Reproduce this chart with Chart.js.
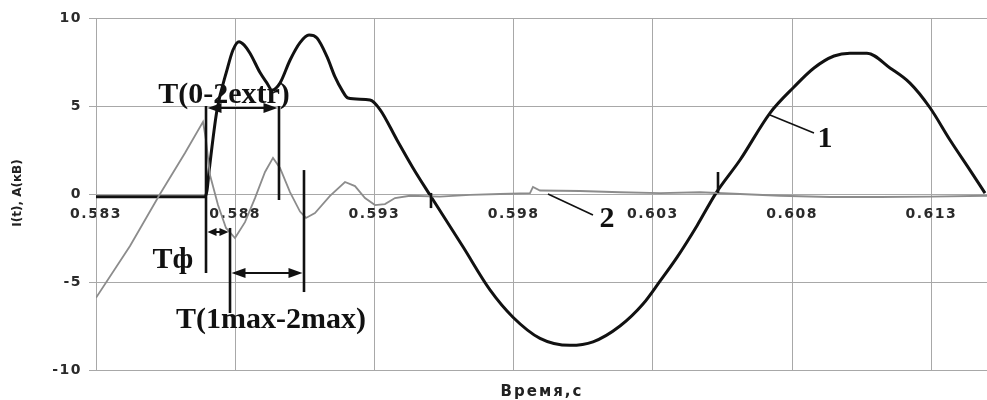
<!DOCTYPE html>
<html><head><meta charset="utf-8">
<script src="https://cdn.jsdelivr.net/npm/chart.js@4.4.1/dist/chart.umd.min.js"></script>
<style>html,body{margin:0;padding:0;background:#fff;}#wrap{width:987px;height:400px;}</style>
</head><body><div id="wrap"><canvas id="c" width="987" height="400"></canvas></div>
<script>
const xTicks = [0.583, 0.588, 0.593, 0.598, 0.603, 0.608, 0.613];
const yTicks = [-10, -5, 0, 5, 10];
const xTitle = 'Время,с';
const yTitle = 'I(t), A(кВ)';

// curve 1 (black)
const curve1Time = [0.583, 0.586915, 0.586986, 0.587058, 0.587346, 0.587705, 0.58792, 0.588136, 0.588315, 0.588531, 0.58889, 0.589141, 0.589321, 0.589608, 0.589967, 0.590327, 0.59065, 0.590937, 0.591296, 0.591584, 0.591835, 0.59205, 0.59284, 0.5932, 0.59381, 0.594385, 0.594995, 0.59618, 0.59715, 0.597976, 0.598946, 0.600023, 0.60085, 0.601819, 0.602645, 0.603256, 0.603866, 0.604585, 0.605267, 0.606129, 0.607206, 0.608068, 0.608786, 0.609505, 0.610079, 0.61069, 0.611516, 0.612234, 0.612953, 0.613671, 0.614389, 0.614928];
const curve1Value = [-0.15, -0.15, 0.2, 1.25, 4.77, 7.05, 8.18, 8.65, 8.47, 8.0, 6.9, 6.3, 5.9, 6.3, 7.6, 8.6, 9.03, 8.86, 7.8, 6.65, 5.9, 5.45, 5.34, 4.8, 3.07, 1.48, -0.06, -3.0, -5.45, -7.0, -8.2, -8.6, -8.4, -7.5, -6.25, -4.95, -3.6, -1.8, 0.05, 1.93, 4.6, 6.08, 7.16, 7.84, 8.0, 8.0, 7.16, 6.3, 4.9, 3.07, 1.36, 0.05];

// curve 2 (grey)
const curve2Time = [0.583, 0.584221, 0.585299, 0.586196, 0.586843, 0.58695, 0.587094, 0.587382, 0.587669, 0.587992, 0.588351, 0.58871, 0.58907, 0.589357, 0.589608, 0.589967, 0.590327, 0.590542, 0.590865, 0.591404, 0.591943, 0.592302, 0.592661, 0.59302, 0.593379, 0.593738, 0.594277, 0.595355, 0.596432, 0.597509, 0.598587, 0.598694, 0.598946, 0.600383, 0.601819, 0.603256, 0.604692, 0.606129, 0.607565, 0.609361, 0.611157, 0.612953, 0.615];
const curve2Value = [-5.9, -2.95, 0, 2.33, 4.1, 3.07, 1.08, -0.63, -1.93, -2.5, -1.6, -0.23, 1.25, 2.05, 1.48, 0.11, -1.0, -1.36, -1.08, -0.11, 0.68, 0.45, -0.23, -0.63, -0.57, -0.23, -0.1, -0.15, -0.05, 0, 0.05, 0.4, 0.2, 0.17, 0.1, 0.05, 0.1, 0, -0.1, -0.17, -0.17, -0.15, -0.1];

// annotation geometry in data units (time, value)
const annotVLines = [[0.586951, 5.0, -4.49], [0.589572, 5.0, -0.34], [0.587813, -1.93, -6.76], [0.59047, 1.36, -5.57], [0.605339, 1.25, 0.06], [0.595031, 0.06, -0.8]];
const annotArrows = [[0.586951, 0.589572, 4.89, 14, 5], [0.586951, 0.587813, -2.16, 9, 4], [0.587813, 0.59047, -4.49, 14, 5]];
const annotLeaders = [[0.607206, 4.49, 0.608786, 3.47], [0.599233, 0.0, 0.600849, -1.19]];
const annotLabels = [['T(0-2extr)', 0.587597, 5.17], ['Tф', 0.585765, -4.2], ['T(1max-2max)', 0.589285, -7.61], ['1', 0.609182, 2.67], ['2', 0.601352, -1.875]];

const zip = (xs, ys) => xs.map((x, i) => ({x: x, y: ys[i]}));

const spacingPlugin = {
  id: 'spacing',
  beforeUpdate(chart) { chart.ctx.letterSpacing = '1.5px'; },
  beforeDraw(chart) { chart.ctx.letterSpacing = '1.5px'; }
};

const annotPlugin = {
  id: 'annot',
  afterDatasetsDraw(chart) {
    const ctx = chart.ctx, xs = chart.scales.x, ys = chart.scales.y;
    const X = v => xs.getPixelForValue(v), Y = v => ys.getPixelForValue(v);
    ctx.save();
    ctx.letterSpacing = '0px';
    ctx.strokeStyle = '#111'; ctx.fillStyle = '#111';
    ctx.lineWidth = 2.6;
    annotVLines.forEach(([t, a, b]) => {
      ctx.beginPath(); ctx.moveTo(X(t), Y(a)); ctx.lineTo(X(t), Y(b)); ctx.stroke();
    });
    ctx.lineWidth = 2;
    annotArrows.forEach(([t1, t2, v, hl, hh]) => {
      const x1 = X(t1) + 1.5, x2 = X(t2) - 1.5, y = Y(v);
      ctx.beginPath(); ctx.moveTo(x1 + hl * 0.5, y); ctx.lineTo(x2 - hl * 0.5, y); ctx.stroke();
      ctx.beginPath(); ctx.moveTo(x1, y); ctx.lineTo(x1 + hl, y - hh); ctx.lineTo(x1 + hl, y + hh); ctx.closePath(); ctx.fill();
      ctx.beginPath(); ctx.moveTo(x2, y); ctx.lineTo(x2 - hl, y - hh); ctx.lineTo(x2 - hl, y + hh); ctx.closePath(); ctx.fill();
    });
    ctx.lineWidth = 1.6;
    annotLeaders.forEach(([t1, v1, t2, v2]) => {
      ctx.beginPath(); ctx.moveTo(X(t1), Y(v1)); ctx.lineTo(X(t2), Y(v2)); ctx.stroke();
    });
    ctx.font = 'bold 30px "Liberation Serif", "Times New Roman", serif';
    ctx.textAlign = 'center'; ctx.textBaseline = 'alphabetic';
    annotLabels.forEach(([s, t, v]) => ctx.fillText(s, X(t), Y(v)));
    // axis titles
    ctx.fillStyle = '#222';
    ctx.font = 'bold 15px "DejaVu Sans", sans-serif';
    ctx.letterSpacing = '2px';
    ctx.textBaseline = 'middle';
    ctx.fillText(xTitle, 542, 392);
    ctx.letterSpacing = '0px';
    ctx.font = 'bold 12px "DejaVu Sans", sans-serif';
    ctx.translate(18, 193); ctx.rotate(-Math.PI / 2);
    ctx.fillText(yTitle, 0, 0);
    ctx.restore();
  }
};

const tickFont = {family: '"DejaVu Sans", sans-serif', size: 14, weight: 'bold'};

new Chart(document.getElementById('c'), {
  type: 'line',
  data: {
    datasets: [
      {label: '2', data: zip(curve2Time, curve2Value), borderColor: '#8c8c8c', borderWidth: 1.8, pointRadius: 0, tension: 0, fill: false},
      {label: '1', data: zip(curve1Time, curve1Value), borderColor: '#111', borderWidth: 3, pointRadius: 0, cubicInterpolationMode: 'monotone', fill: false}
    ]
  },
  options: {
    responsive: false, animation: false, devicePixelRatio: 1,
    layout: {padding: {top: 18, right: 0, bottom: 30, left: 0}},
    plugins: {legend: {display: false}, tooltip: {enabled: false}, title: {display: false}},
    scales: {
      x: {
        type: 'linear', min: 0.583, max: 0.615, position: {y: 0},
        afterBuildTicks: s => { s.ticks = xTicks.map(v => ({value: v})); },
        ticks: {callback: v => Number(v).toFixed(3), font: tickFont, color: '#2a2a2a', padding: 12, maxRotation: 0, autoSkip: false},
        grid: {color: '#a8a8a8', lineWidth: 1, drawTicks: false},
        border: {display: false}
      },
      y: {
        type: 'linear', min: -10, max: 10,
        afterBuildTicks: s => { s.ticks = yTicks.map(v => ({value: v})); },
        afterFit: s => { s.width = 96; },
        ticks: {font: tickFont, color: '#2a2a2a', padding: 7},
        grid: {color: '#a8a8a8', lineWidth: 1, tickLength: 7},
        border: {display: true, color: '#a8a8a8'}
      }
    }
  },
  plugins: [spacingPlugin, annotPlugin]
});
</script>
</body></html>
